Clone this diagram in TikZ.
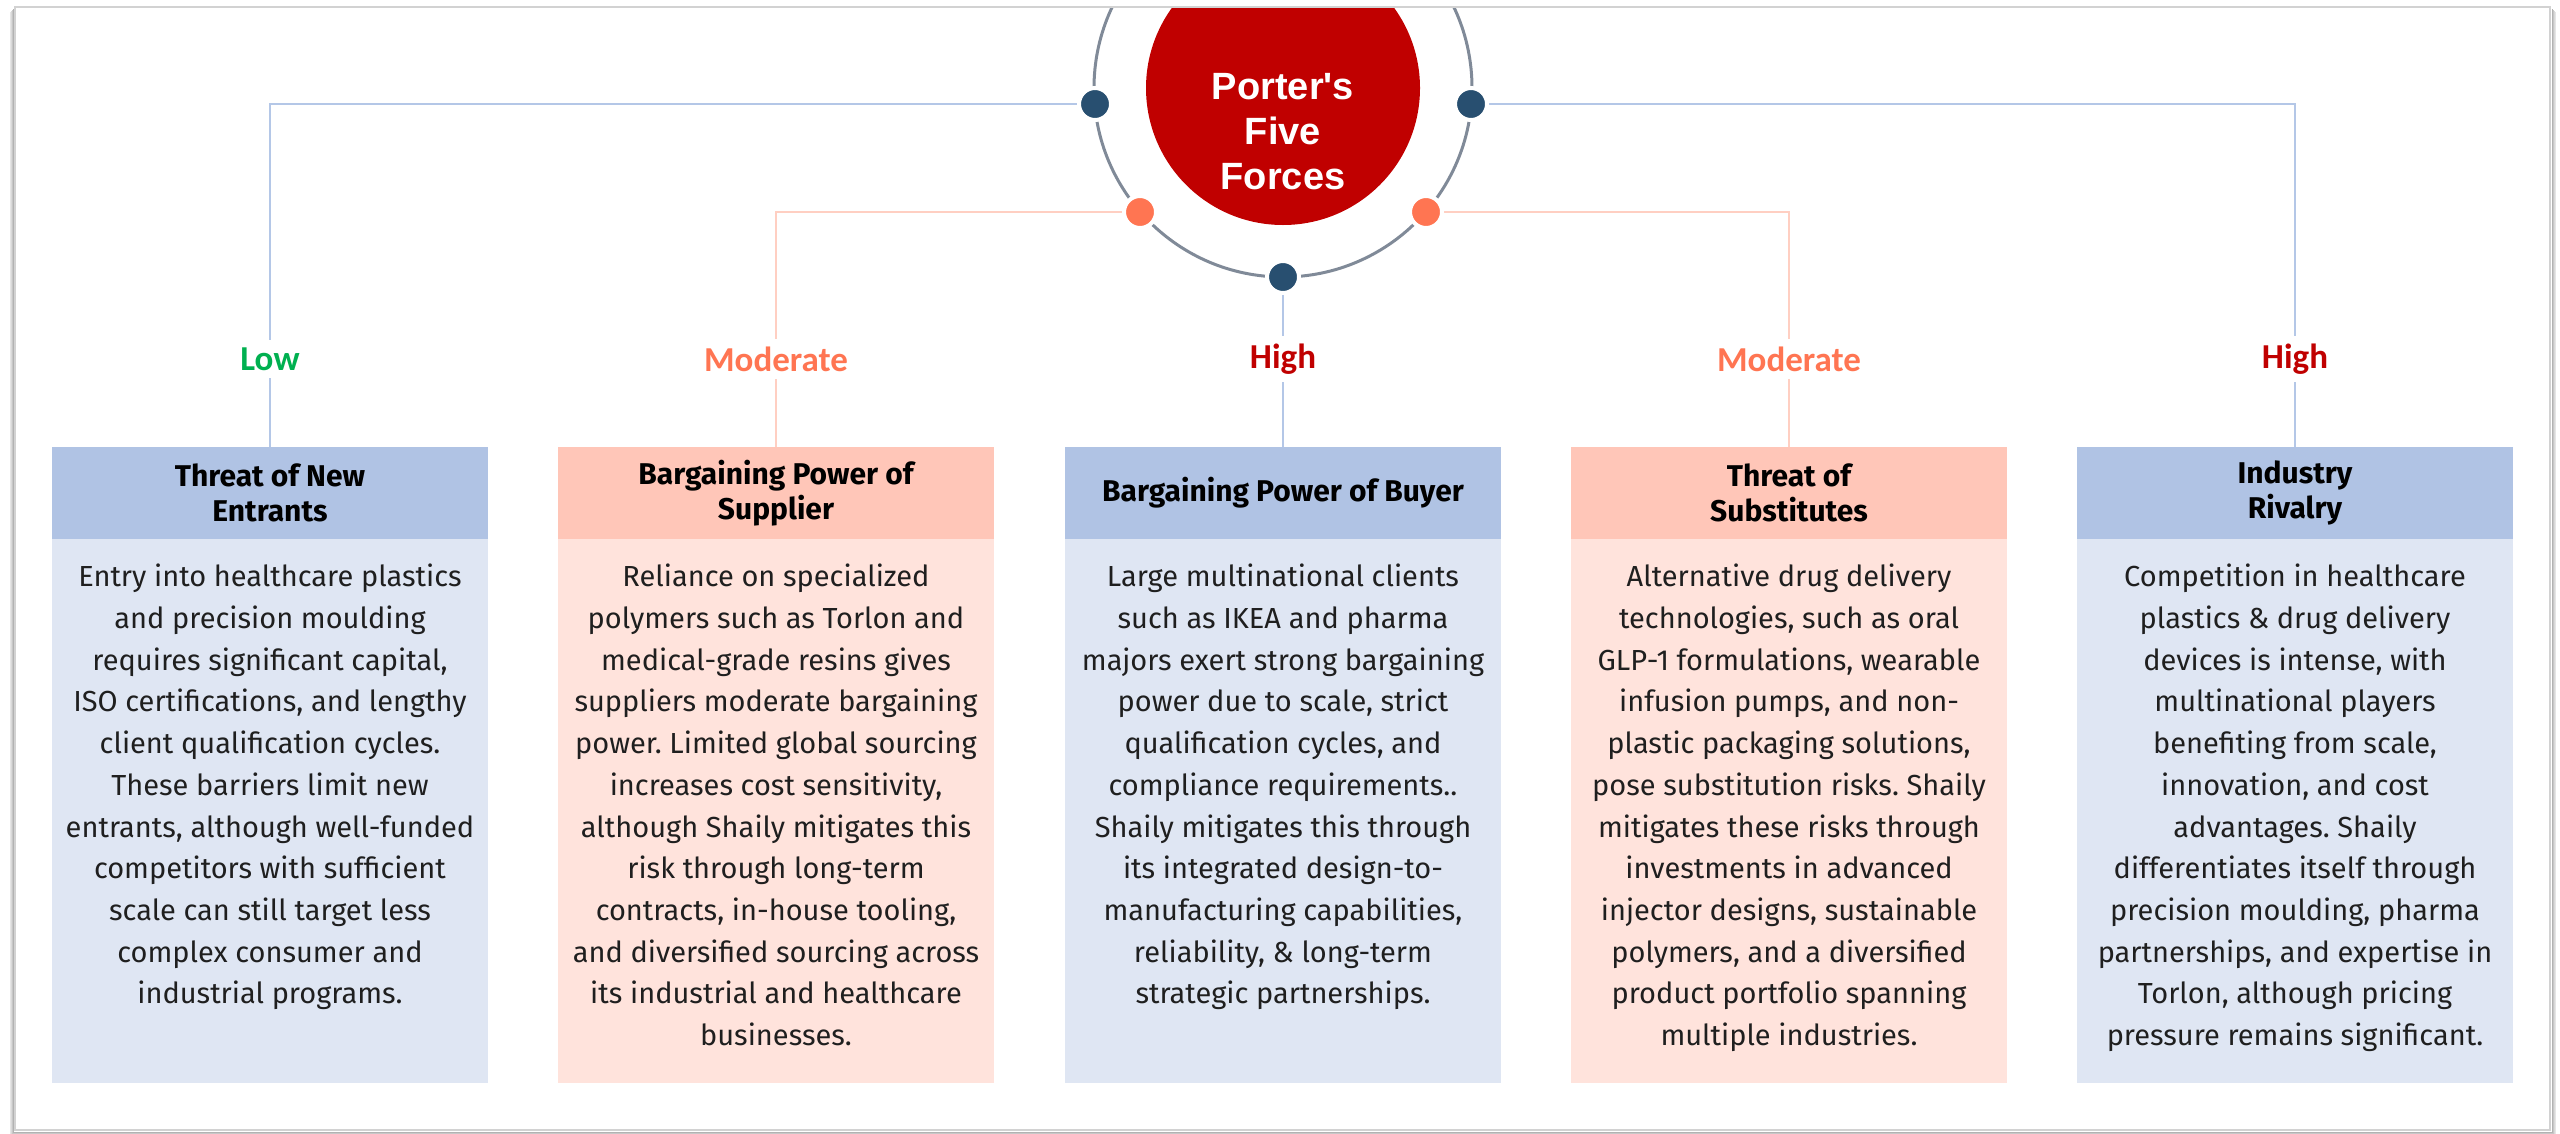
\documentclass[tikz,border=0pt]{standalone}
\usepackage{fontspec}
\setmainfont{Fira Sans}
\newfontfamily\levelfamily{Carlito}
\newfontfamily\titlefamily{Liberation Sans}
\usetikzlibrary{backgrounds}
\frenchspacing

\definecolor{ringgray}{HTML}{808A98}
\definecolor{forcered}{HTML}{C00000}
\definecolor{navydot}{HTML}{284F70}
\definecolor{coraldot}{HTML}{FF7552}
\definecolor{blueline}{HTML}{B4C7E7}
\definecolor{coralline}{HTML}{FFCFC2}
\definecolor{bluehead}{HTML}{B0C3E4}
\definecolor{bluebody}{HTML}{DFE6F3}
\definecolor{coralhead}{HTML}{FFC6B8}
\definecolor{coralbody}{HTML}{FFE3DC}
\definecolor{lowgreen}{HTML}{00B050}
\definecolor{framegray}{HTML}{D2D2D2}

\newcommand\cardbodyfont{\fontsize{29}{41.7}\selectfont}
\newcommand\cardheadfont{\fontsize{30}{35}\selectfont\bfseries}

\tikzset{
  dotnode/.style={circle, minimum size=32pt, inner sep=0pt, draw=white, line width=4pt},
  navy/.style={dotnode, fill=navydot},
  coral/.style={dotnode, fill=coraldot},
  blueconn/.style={draw=blueline, line width=2pt},
  coralconn/.style={draw=coralline, line width=2pt},
  level/.style={fill=white, inner xsep=6pt, inner ysep=8pt,
    font=\levelfamily\bfseries\fontsize{35}{40}\selectfont},
  headbox/.style={minimum width=436pt, minimum height=92pt, inner sep=0pt,
    align=center, font=\cardheadfont, text=black},
  bodybox/.style={minimum width=436pt, minimum height=544pt, inner sep=0pt},
  bodytext/.style={anchor=north, align=center, inner sep=0pt, font=\cardbodyfont,
    text=black!88},
}

\begin{document}
\begin{tikzpicture}[x=1pt, y=-1pt]
\useasboundingbox (0,0) rectangle (2560,1133);

% soft shadow outside the frame
\foreach \o/\op in {5/0.10, 4/0.15, 3/0.22, 2/0.30}{
  \draw[black, opacity=\op, line width=1pt] (15-\o,7+\o) -- (15-\o,1130+\o) -- (2550+\o,1130+\o) -- (2550+\o,7+\o);
}

% central title disk and ring, clipped by the frame top
\begin{scope}
  \clip (15,7) rectangle (2550,1130);
  \fill[forcered] (1283,88) circle[radius=137pt];
  \draw[ringgray, line width=3pt] (1283,88) circle[radius=189pt];
\end{scope}
\node[text=white, align=center, font=\titlefamily\bfseries\fontsize{38}{45}\selectfont] (title) at (1283,132) {Porter's\\Five\\Forces};

% dots on the ring
\node[navy]  (dA) at (1095,104) {};
\node[coral] (dB) at (1140,212) {};
\node[navy]  (dC) at (1283,277) {};
\node[coral] (dD) at (1426,212) {};
\node[navy]  (dE) at (1471,104) {};

% cards: header bands
\node[headbox, fill=bluehead]  (h1) at (270,493)  {Threat of New\\Entrants};
\node[headbox, fill=coralhead] (h2) at (776,493)  {Bargaining Power of\\Supplier};
\node[headbox, fill=bluehead]  (h3) at (1283,493) {Bargaining Power of Buyer};
\node[headbox, fill=coralhead] (h4) at (1789,493) {Threat of\\Substitutes};
\node[headbox, fill=bluehead]  (h5) at (2295,493) {Industry\\Rivalry};

% cards: body panels
\node[bodybox, fill=bluebody]  (b1) at (270,811)  {};
\node[bodybox, fill=coralbody] (b2) at (776,811)  {};
\node[bodybox, fill=bluebody]  (b3) at (1283,811) {};
\node[bodybox, fill=coralbody] (b4) at (1789,811) {};
\node[bodybox, fill=bluebody]  (b5) at (2295,811) {};

\node[bodytext] (t1) at (270,564) {Entry into healthcare plastics\\and precision moulding\\requires significant capital,\\ISO certifications, and lengthy\\client qualification cycles.\\These barriers limit new\\entrants, although well-funded\\competitors with sufficient\\scale can still target less\\complex consumer and\\industrial programs.};
\node[bodytext] (t2) at (776,564) {Reliance on specialized\\polymers such as Torlon and\\medical-grade resins gives\\suppliers moderate bargaining\\power. Limited global sourcing\\increases cost sensitivity,\\although Shaily mitigates this\\risk through long-term\\contracts, in-house tooling,\\and diversified sourcing across\\its industrial and healthcare\\businesses.};
\node[bodytext] (t3) at (1283,564) {Large multinational clients\\such as IKEA and pharma\\majors exert strong bargaining\\power due to scale, strict\\qualification cycles, and\\compliance requirements..\\Shaily mitigates this through\\its integrated design-to-\\manufacturing capabilities,\\reliability, \& long-term\\strategic partnerships.};
\node[bodytext] (t4) at (1789,564) {Alternative drug delivery\\technologies, such as oral\\GLP-1 formulations, wearable\\infusion pumps, and non-\\plastic packaging solutions,\\pose substitution risks. Shaily\\mitigates these risks through\\investments in advanced\\injector designs, sustainable\\polymers, and a diversified\\product portfolio spanning\\multiple industries.};
\node[bodytext] (t5) at (2295,564) {Competition in healthcare\\plastics \& drug delivery\\devices is intense, with\\multinational players\\benefiting from scale,\\innovation, and cost\\advantages. Shaily\\differentiates itself through\\precision moulding, pharma\\partnerships, and expertise in\\Torlon, although pricing\\pressure remains significant.};

% force levels
\node[level, text=lowgreen] (l1) at (270,359)  {Low};
\node[level, text=coraldot] (l2) at (776,359)  {Moderate};
\node[level, text=forcered] (l3) at (1283,359) {High};
\node[level, text=coraldot] (l4) at (1789,359) {Moderate};
\node[level, text=forcered] (l5) at (2295,359) {High};

% connectors from the ring to each card
\begin{scope}[on background layer]
  \draw[blueconn]  (dA) -| (h1.north);
  \draw[coralconn] (dB) -| (h2.north);
  \draw[blueconn]  (dC) -- (h3.north);
  \draw[coralconn] (dD) -| (h4.north);
  \draw[blueconn]  (dE) -| (h5.north);
\end{scope}

% frame border
\draw[framegray, line width=2.5pt] (15,7) rectangle (2550,1130);
\end{tikzpicture}
\end{document}
